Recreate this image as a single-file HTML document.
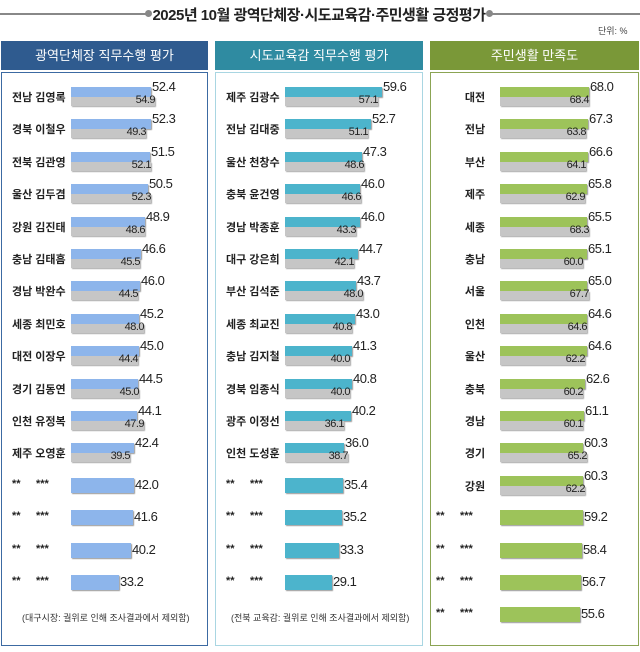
<!DOCTYPE html>
<html><head><meta charset="utf-8"><style>
body{margin:0;width:640px;height:652px;background:#fff;position:relative;overflow:hidden;font-family:"Liberation Sans","Noto Sans CJK KR",sans-serif}
.a{position:absolute}
.hd{position:absolute;top:41px;height:29px;color:#fff;font-size:13px;text-align:center;line-height:29px}
.pn{position:absolute;top:72px;height:574px;box-sizing:border-box;border:1.5px solid}
.lb{position:absolute;font-size:11px;font-weight:bold;color:#222;white-space:nowrap}
.v{position:absolute;font-size:13px;color:#222;letter-spacing:-0.5px}
.g{position:absolute;font-size:11px;color:#222;letter-spacing:-0.5px}
.nt{position:absolute;font-size:9px;color:#333;white-space:nowrap}
</style></head><body>
<div class="a" style="left:0;top:13px;width:148px;height:2px;background:#888"></div>
<div class="a" style="left:490px;top:13px;width:150px;height:2px;background:#888"></div>
<div class="a" style="left:145px;top:10px;width:7px;height:7px;border-radius:50%;background:#888"></div>
<div class="a" style="left:486px;top:10px;width:7px;height:7px;border-radius:50%;background:#888"></div>
<div class="a" style="left:152px;top:4px;width:334px;text-align:center;font-size:15px;font-weight:bold;color:#222;letter-spacing:-0.5px">2025년 10월 광역단체장·시도교육감·주민생활 긍정평가</div>
<div class="a" style="left:598px;top:24px;font-size:9px;color:#444">단위: %</div>
<div class="hd" style="left:1px;width:207px;background:#2f5b8f">광역단체장 직무수행 평가</div>
<div class="hd" style="left:215px;width:208px;background:#2f8ba1">시도교육감 직무수행 평가</div>
<div class="hd" style="left:430px;width:209px;background:#7a9838">주민생활 만족도</div>
<div class="pn" style="left:1px;width:207px;border-color:#3c6aa2"></div>
<div class="pn" style="left:215px;width:208px;border-color:#a9d6e2"></div>
<div class="pn" style="left:430px;width:209px;border-color:#8ba454"></div>
<div class="nt" style="left:22px;top:611px">(대구시장: 궐위로 인해  조사결과에서 제외함)</div>
<div class="nt" style="left:231px;top:611px">(전북 교육감: 궐위로 인해  조사결과에서 제외함)</div>
<div id="c"></div>
<script>
var L=[["전남 김영록",52.4,54.9],["경북 이철우",52.3,49.3],["전북 김관영",51.5,52.1],["울산 김두겸",50.5,52.3],["강원 김진태",48.9,48.6],["충남 김태흠",46.6,45.5],["경남 박완수",46.0,44.5],["세종 최민호",45.2,48.0],["대전 이장우",45.0,44.4],["경기 김동연",44.5,45.0],["인천 유정복",44.1,47.9],["제주 오영훈",42.4,39.5],["*",42.0],["*",41.6],["*",40.2],["*",33.2]];
var M=[["제주 김광수",59.6,57.1],["전남 김대중",52.7,51.1],["울산 천창수",47.3,48.6],["충북 윤건영",46.0,46.6],["경남 박종훈",46.0,43.3],["대구 강은희",44.7,42.1],["부산 김석준",43.7,48.0],["세종 최교진",43.0,40.8],["충남 김지철",41.3,40.0],["경북 임종식",40.8,40.0],["광주 이정선",40.2,36.1],["인천 도성훈",36.0,38.7],["*",35.4],["*",35.2],["*",33.3],["*",29.1]];
var R=[["대전",68.0,68.4],["전남",67.3,63.8],["부산",66.6,64.1],["제주",65.8,62.9],["세종",65.5,68.3],["충남",65.1,60.0],["서울",65.0,67.7],["인천",64.6,64.6],["울산",64.6,62.2],["충북",62.6,60.2],["경남",61.1,60.1],["경기",60.3,65.2],["강원",60.3,62.2],["*",59.2],["*",58.4],["*",56.7],["*",55.6]];
var h="";
function draw(D,lx,bx,f,col,center){
 D.forEach(function(d,i){
  var y=96+32.4*i;
  var star=d.length<3;
  if(star){
   var sx=center?436:lx;
   h+='<div class="lb" style="left:'+sx+'px;top:'+(y-7)+'px">**</div><div class="lb" style="left:'+(sx+24)+'px;top:'+(y-7)+'px">***</div>';
   var w=f(d[1]);
   h+='<div class="a" style="left:'+bx+'px;top:'+(y-7)+'px;width:'+w+'px;height:15px;background:'+col+';box-shadow:1px 1px 1px #999"></div>';
   h+='<div class="v" style="left:'+(bx+w+1)+'px;top:'+(y-8)+'px">'+d[1].toFixed(1)+'</div>';
  }else{
   if(center) h+='<div class="lb" style="left:'+(lx-20)+'px;width:40px;text-align:center;top:'+(y-7)+'px">'+d[0]+'</div>';
   else h+='<div class="lb" style="left:'+lx+'px;top:'+(y-7)+'px">'+d[0]+'</div>';
   var w=f(d[1]),w2=f(d[2]);
   h+='<div class="a" style="left:'+bx+'px;top:'+(y-9)+'px;width:'+w+'px;height:10px;background:'+col+';box-shadow:1px 1px 1px #999"></div>';
   h+='<div class="a" style="left:'+bx+'px;top:'+(y+1)+'px;width:'+w2+'px;height:9px;background:#c6c6c6;box-shadow:1px 1px 1px #aaa"></div>';
   h+='<div class="v" style="left:'+(bx+w+1)+'px;top:'+(y-17)+'px">'+d[1].toFixed(1)+'</div>';
   h+='<div class="g" style="left:'+(bx+w2-40)+'px;width:40px;text-align:right;top:'+(y-2)+'px">'+d[2].toFixed(1)+'</div>';
  }
 });
}
draw(L,12,71,function(v){return Math.round((v-4.4)*1.67)},"#8db5eb",false);
draw(M,226,285,function(v){return Math.round(v*1.63)},"#4cb4cc",false);
draw(R,475,500,function(v){return Math.round((v+54.6)*0.726)},"#9dc35a",true);
document.getElementById("c").innerHTML=h;
</script>
</body></html>
